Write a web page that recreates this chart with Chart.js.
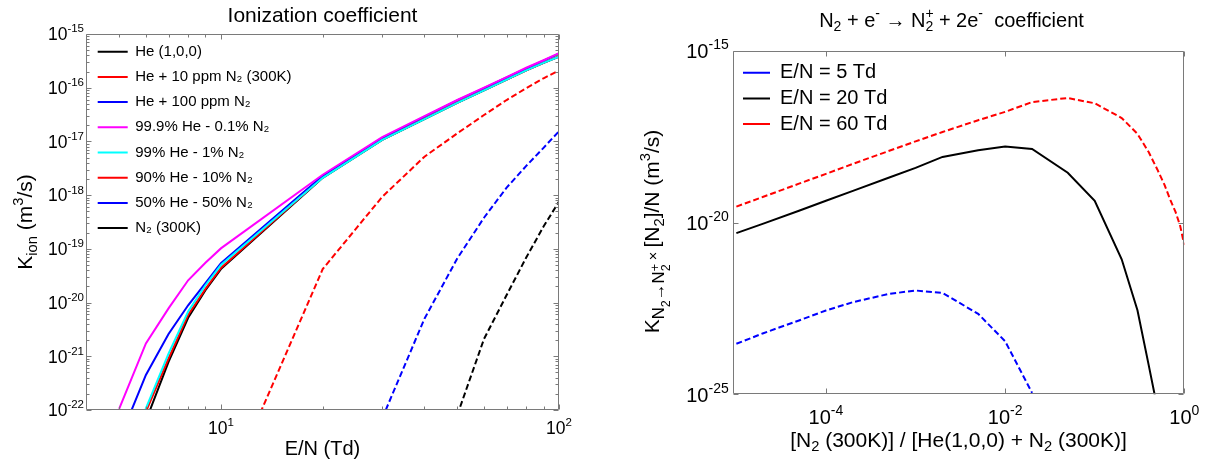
<!DOCTYPE html>
<html><head><meta charset="utf-8">
<script src="https://cdn.jsdelivr.net/npm/chart.js@4.4.1/dist/chart.umd.min.js"></script>
<style>
html,body{margin:0;padding:0;background:#fff;overflow:hidden;}
#wrap{position:relative;width:1209px;height:462px;}
.box{position:absolute;top:0;height:462px;}
</style></head><body>
<div id="wrap">
  <div class="box" style="left:0;width:600px"><canvas id="c1"></canvas></div>
  <div class="box" style="left:600px;width:609px"><canvas id="c2"></canvas></div>
</div>
<script>
// ---------------- DATA (left: ionization coefficient) ----------------
const fieldTd = [5, 6, 7, 8, 9, 10, 20, 30, 40, 50, 60, 70, 80, 90, 100];
const kHe      = [null, 6.3e-23, 7.9e-22, 5.2e-21, 1.7e-20, 4.2e-20, 2.1e-18, 1.07e-17, 2.6e-17, 5.2e-17, 8.9e-17, 1.41e-16, 2.1e-16, 2.9e-16, 3.8e-16];
const kHe10ppm = [null, 9.3e-23, 9.1e-22, 5.9e-21, 1.8e-20, 4.4e-20, 2.15e-18, 1.08e-17, 2.65e-17, 5.3e-17, 9.0e-17, 1.42e-16, 2.1e-16, 2.9e-16, 3.85e-16];
const kHe100ppm = [2.7e-23, 4.5e-22, 2.6e-21, 8.9e-21, 2.3e-20, 5.4e-20, 2.3e-18, 1.17e-17, 2.9e-17, 5.8e-17, 9.8e-17, 1.55e-16, 2.3e-16, 3.2e-16, 4.3e-16];
const kHe01pct = [1.05e-22, 1.74e-21, 7.8e-21, 2.6e-20, 5.5e-20, 1.02e-19, 2.4e-18, 1.2e-17, 2.95e-17, 5.9e-17, 1.0e-16, 1.58e-16, 2.35e-16, 3.25e-16, 4.4e-16];
const kHe1pct  = [3.2e-24, 1.07e-22, 1.12e-21, 6.8e-21, 2.1e-20, 5.0e-20, 2.1e-18, 1.07e-17, 2.6e-17, 5.2e-17, 8.9e-17, 1.41e-16, 2.1e-16, 2.9e-16, 3.8e-16];
const kHe10pct = [null, null, null, null, null, 1.8e-24, 4.2e-20, 9.3e-19, 5.2e-18, 1.41e-17, 3.1e-17, 5.9e-17, 9.8e-17, 1.5e-16, 2.1e-16];
const kHe50pct = [null, null, null, null, null, null, null, 7e-23, 5e-21, 6.6e-20, 3.8e-19, 1.38e-18, 3.5e-18, 7.6e-18, 1.55e-17];
const kN2      = [null, null, null, null, null, null, null, null, null, 8e-23, 2.1e-21, 1.38e-20, 6.9e-20, 2.6e-19, 7.6e-19];

const leftLabels = ['He (1,0,0)', 'He + 10 ppm N\u2082 (300K)', 'He + 100 ppm N\u2082', '99.9% He - 0.1% N\u2082',
  '99% He - 1% N\u2082', '90% He - 10% N\u2082', '50% He - 50% N\u2082', 'N\u2082 (300K)'];

// ---------------- DATA (right: N2 ionization vs mixture) ----------------
const ratioN2 = [1e-5, 2e-5, 5e-5, 1e-4, 2e-4, 5e-4, 1e-3, 2e-3, 5e-3, 1e-2, 2e-2, 5e-2, 0.1, 0.2, 0.3, 0.4, 0.5, 0.6, 0.7, 0.8, 0.9, 1.0];
const k5Td  = [2.95e-24, 6.0e-24, 1.41e-23, 2.75e-23, 4.8e-23, 8.3e-23, 1.05e-22, 8.9e-23, 2.2e-23, 3.5e-24, 1.1e-25, null, null, null, null, null, null, null, null, null, null, null];
const k20Td = [4.9e-21, 9.3e-21, 2.2e-20, 4.3e-20, 8.3e-20, 2.0e-19, 3.9e-19, 8.1e-19, 1.26e-18, 1.62e-18, 1.38e-18, 2.8e-19, 4.3e-20, 8.5e-22, 2.8e-23, 7.2e-25, 4e-26, null, null, null, null, null];
const k60Td = [2.9e-20, 5.6e-20, 1.35e-19, 2.6e-19, 5.1e-19, 1.2e-18, 2.3e-18, 4.3e-18, 9.5e-18, 1.66e-17, 3.2e-17, 4.2e-17, 2.95e-17, 1.1e-17, 3.8e-18, 1.12e-18, 3.5e-19, 1.26e-19, 4.5e-20, 2.0e-20, 7.9e-21, 2.2e-21];
const rightLabels = ['E/N = 5 Td', 'E/N = 20 Td', 'E/N = 60 Td'];

// ---------------- TICKS (value, base, exponent) ----------------
const leftXTicks = [10, 100];
const leftXTickExp = ['1', '2'];
const leftXMinor = [5, 6, 7, 8, 9, 20, 30, 40, 50, 60, 70, 80, 90];
const leftYTicks = [1e-22, 1e-21, 1e-20, 1e-19, 1e-18, 1e-17, 1e-16, 1e-15];
const leftYTickExp = ['-22', '-21', '-20', '-19', '-18', '-17', '-16', '-15'];
const rightXTicks = [1e-4, 1e-2, 1];
const rightXTickExp = ['-4', '-2', '0'];
const rightYTicks = [1e-25, 1e-20, 1e-15];
const rightYTickExp = ['-25', '-20', '-15'];
const tickBase = '10';

// ---------------- helpers ----------------
const FONT = "'Liberation Sans', Arial, Helvetica, sans-serif";
Chart.defaults.font.family = FONT;
Chart.defaults.color = '#000';

function leftMinorY() {
  const out = [];
  for (let e = -22; e < -15; e++) for (let m = 2; m <= 9; m++) out.push(m * Math.pow(10, e));
  return out;
}
function pts(xs, ys) { return xs.map((x, i) => ({x: x, y: ys[i]})); }

const sub = t => ({t: t, s: 0.7, dy: 0.22});
const sup = t => ({t: t, s: 0.7, dy: -0.42});

function drawRich(ctx, segs, size, cx, cy, rotate) {
  ctx.save();
  const pos = [];
  let x = 0;
  for (const sg of segs) {
    const fs = size * (sg.s || 1);
    ctx.font = fs + 'px ' + FONT;
    const tw = ctx.measureText(sg.t).width;
    pos.push({x: x, fs: fs, dy: (sg.dy || 0) * size, t: sg.t});
    if (sg.adv !== false) x += tw;
  }
  ctx.translate(cx, cy);
  if (rotate) ctx.rotate(-Math.PI / 2);
  const x0 = -x / 2;
  ctx.fillStyle = '#000';
  ctx.textBaseline = 'alphabetic';
  ctx.textAlign = 'left';
  for (const p of pos) { ctx.font = p.fs + 'px ' + FONT; ctx.fillText(p.t, x0 + p.x, p.dy); }
  ctx.restore();
}

// draws "10" with a raised exponent; anchor: 'right' (y axis) or 'center' (x axis)
function drawPow(ctx, exp, base, expSize, ax, baseline, anchor) {
  ctx.font = base + 'px ' + FONT;
  const w1 = ctx.measureText(tickBase).width;
  ctx.font = expSize + 'px ' + FONT;
  const w2 = ctx.measureText(exp).width;
  const total = w1 + w2;
  const x0 = anchor === 'right' ? ax - total : ax - total / 2;
  ctx.textAlign = 'left';
  ctx.textBaseline = 'alphabetic';
  ctx.fillStyle = '#000';
  ctx.font = base + 'px ' + FONT;
  ctx.fillText(tickBase, x0, baseline);
  ctx.font = expSize + 'px ' + FONT;
  ctx.fillText(exp, x0 + w1, baseline - base * 0.45);
}

const framePlugin = {
  id: 'frame',
  afterDatasetsDraw(chart, args, o) {
    const {ctx, chartArea: a} = chart;
    const sx = chart.scales.x, sy = chart.scales.y;
    ctx.save();
    ctx.strokeStyle = '#7a7a7a';
    ctx.lineWidth = 1;
    const L = Math.round(a.left) + 0.5, R = Math.round(a.right) - 0.5;
    const T = Math.round(a.top) + 0.5, B = Math.round(a.bottom) - 0.5;
    ctx.beginPath();
    ctx.rect(L, T, R - L, B - T);
    const tx = (v, len) => {
      const p = Math.round(sx.getPixelForValue(v)) + 0.5;
      ctx.moveTo(p, B); ctx.lineTo(p, B - len);
      ctx.moveTo(p, T); ctx.lineTo(p, T + len);
    };
    const ty = (v, len) => {
      const p = Math.round(sy.getPixelForValue(v)) + 0.5;
      ctx.moveTo(L, p); ctx.lineTo(L + len, p);
      ctx.moveTo(R, p); ctx.lineTo(R - len, p);
    };
    (o.xMajor || []).forEach(v => tx(v, o.major));
    (o.xMinor || []).forEach(v => tx(v, o.minor));
    (o.yMajor || []).forEach(v => ty(v, o.major));
    (o.yMinor || []).forEach(v => ty(v, o.minor));
    ctx.stroke();
    ctx.restore();
  },
  afterDraw(chart, args, o) {
    const a = chart.chartArea;
    const ctx = chart.ctx;
    const sx = chart.scales.x, sy = chart.scales.y;
    ctx.save();
    const tl = o.tickLabels;
    if (tl) {
      (o.xMajor || []).forEach((v, i) => {
        drawPow(ctx, tl.xExp[i], tl.size, tl.expSize, sx.getPixelForValue(v), a.bottom + tl.xBaseline, 'center');
      });
      (o.yMajor || []).forEach((v, i) => {
        drawPow(ctx, tl.yExp[i], tl.size, tl.expSize, a.left - tl.yGap, sy.getPixelForValue(v) + tl.size * 0.36, 'right');
      });
    }
    ctx.restore();
    (o.texts || []).forEach(t => {
      const cx = t.cx !== undefined ? t.cx : (a.left + a.right) / 2 + (t.dx || 0);
      const cy = t.cy !== undefined ? t.cy : (a.top + a.bottom) / 2 + (t.dy || 0);
      drawRich(ctx, t.segs, t.size, cx, cy, t.rotate);
    });
  },
  afterLayout(chart, args, o) {
    if (chart.legend && o.legendPos) {
      const a = chart.chartArea;
      chart.legend.left = a.left + o.legendPos.x;
      chart.legend.top = a.top + o.legendPos.y;
    }
  }
};
Chart.register(framePlugin);

function lineDs(label, xs, ys, color, dashed, order) {
  return {
    label: label, data: pts(xs, ys), borderColor: color, backgroundColor: color,
    borderWidth: 2, borderDash: dashed ? [6, 3] : [], pointRadius: 0, tension: 0,
    fill: false, order: order
  };
}

function logAxis(min, max, ticks, fitProp, fitVal) {
  return {
    type: 'logarithmic', min: min, max: max,
    grid: {display: false, drawTicks: false}, border: {display: false},
    afterBuildTicks: s => { s.ticks = ticks.map(v => ({value: v})); },
    afterFit: s => { s[fitProp] = fitVal; },
    ticks: {display: false}
  };
}

// ---------------- LEFT CHART ----------------
const leftSeries = [kHe, kHe10ppm, kHe100ppm, kHe01pct, kHe1pct, kHe10pct, kHe50pct, kN2];
const leftColors = ['#000000', '#ff0000', '#0000ff', '#ff00ff', '#00ffff', '#ff0000', '#0000ff', '#000000'];
const leftDashed = [false, false, false, false, false, true, true, true];

new Chart(document.getElementById('c1'), {
  type: 'line',
  data: {
    datasets: leftSeries.map((s, i) => lineDs(leftLabels[i], fieldTd, s, leftColors[i], leftDashed[i], 20 - i))
  },
  options: {
    responsive: true, maintainAspectRatio: false, animation: false,
    layout: {padding: {left: 40, right: 41, top: 34, bottom: 22}},
    scales: {
      x: logAxis(3.99, 100, leftXTicks, 'height', 30),
      y: logAxis(1e-22, 1e-15, leftYTicks, 'width', 46)
    },
    plugins: {
      title: {display: false},
      tooltip: {enabled: false},
      legend: {
        position: 'chartArea', align: 'start',
        labels: {usePointStyle: true, pointStyle: 'line', pointStyleWidth: 30, boxHeight: 15,
          font: {size: 15}, color: '#000', padding: 10.2,
          sort: (a, b) => a.datasetIndex - b.datasetIndex}
      },
      frame: {
        xMajor: leftXTicks, xMinor: leftXMinor, yMajor: leftYTicks, yMinor: leftMinorY(),
        major: 5, minor: 3, legendPos: {x: 1.5, y: 0},
        tickLabels: {xExp: leftXTickExp, yExp: leftYTickExp, size: 17.5, expSize: 11.5, xBaseline: 23.5, yGap: 2},
        texts: [
          {segs: [{t: 'Ionization coefficient'}], size: 21, cy: 21.7},
          {segs: [{t: 'E/N (Td)'}], size: 20, cy: 455},
          {segs: [{t: 'K'}, sub('ion'), {t: ' (m'}, sup('3'), {t: '/s)'}], size: 21, rotate: true, cx: 32}
        ]
      }
    }
  }
});

// ---------------- RIGHT CHART ----------------
const rightSeries = [k5Td, k20Td, k60Td];
const rightColors = ['#0000ff', '#000000', '#ff0000'];
const rightDashed = [true, false, true];

new Chart(document.getElementById('c2'), {
  type: 'line',
  data: {
    datasets: rightSeries.map((s, i) => lineDs(rightLabels[i], ratioN2, s, rightColors[i], rightDashed[i], 10 - i))
  },
  options: {
    responsive: true, maintainAspectRatio: false, animation: false,
    layout: {padding: {left: 70, right: 24.7, top: 50.7, bottom: 31.7}},
    scales: {
      x: logAxis(9.1e-6, 1, rightXTicks, 'height', 36),
      y: logAxis(1e-25, 1e-15, rightYTicks, 'width', 62.7)
    },
    plugins: {
      title: {display: false},
      tooltip: {enabled: false},
      legend: {
        position: 'chartArea', align: 'start',
        labels: {usePointStyle: true, pointStyle: 'line', pointStyleWidth: 27, boxHeight: 20,
          font: {size: 20}, color: '#000', padding: 5.7,
          sort: (a, b) => a.datasetIndex - b.datasetIndex}
      },
      frame: {
        xMajor: rightXTicks, yMajor: rightYTicks, major: 5, minor: 3,
        legendPos: {x: 4.6, y: 6.3},
        tickLabels: {xExp: rightXTickExp, yExp: rightYTickExp, size: 20, expSize: 14, xBaseline: 29.7, yGap: 4},
        texts: [
          {segs: [{t: 'N'}, sub('2'), {t: ' + e'}, sup('-'), {t: ' \u2192 N'}, {t: '+', s: 0.7, dy: -0.42, adv: false}, sub('2'),
                  {t: ' + 2e'}, sup('-'), {t: '  coefficient'}], size: 20, cy: 26.5, dx: -7},
          {segs: [{t: '[N'}, sub('2'), {t: ' (300K)] / [He(1,0,0) + N'}, sub('2'), {t: ' (300K)]'}], size: 21, cy: 446.7},
          {segs: [{t: 'K'}, {t: 'N', s: 0.8, dy: 0.25}, {t: '2', s: 0.6, dy: 0.5}, {t: '\u2192', s: 0.8, dy: 0.25},
                  {t: 'N', s: 0.8, dy: 0.25}, {t: '+', s: 0.6, dy: -0.02, adv: false}, {t: '2', s: 0.6, dy: 0.5},
                  {t: ' \u00D7 ', s: 0.7, dy: -0.05}, {t: '[N'}, sub('2'), {t: ']/N (m'}, sup('3'), {t: '/s)'}],
           size: 21, rotate: true, cx: 59, dy: 9}
        ]
      }
    }
  }
});
</script>
</body></html>
